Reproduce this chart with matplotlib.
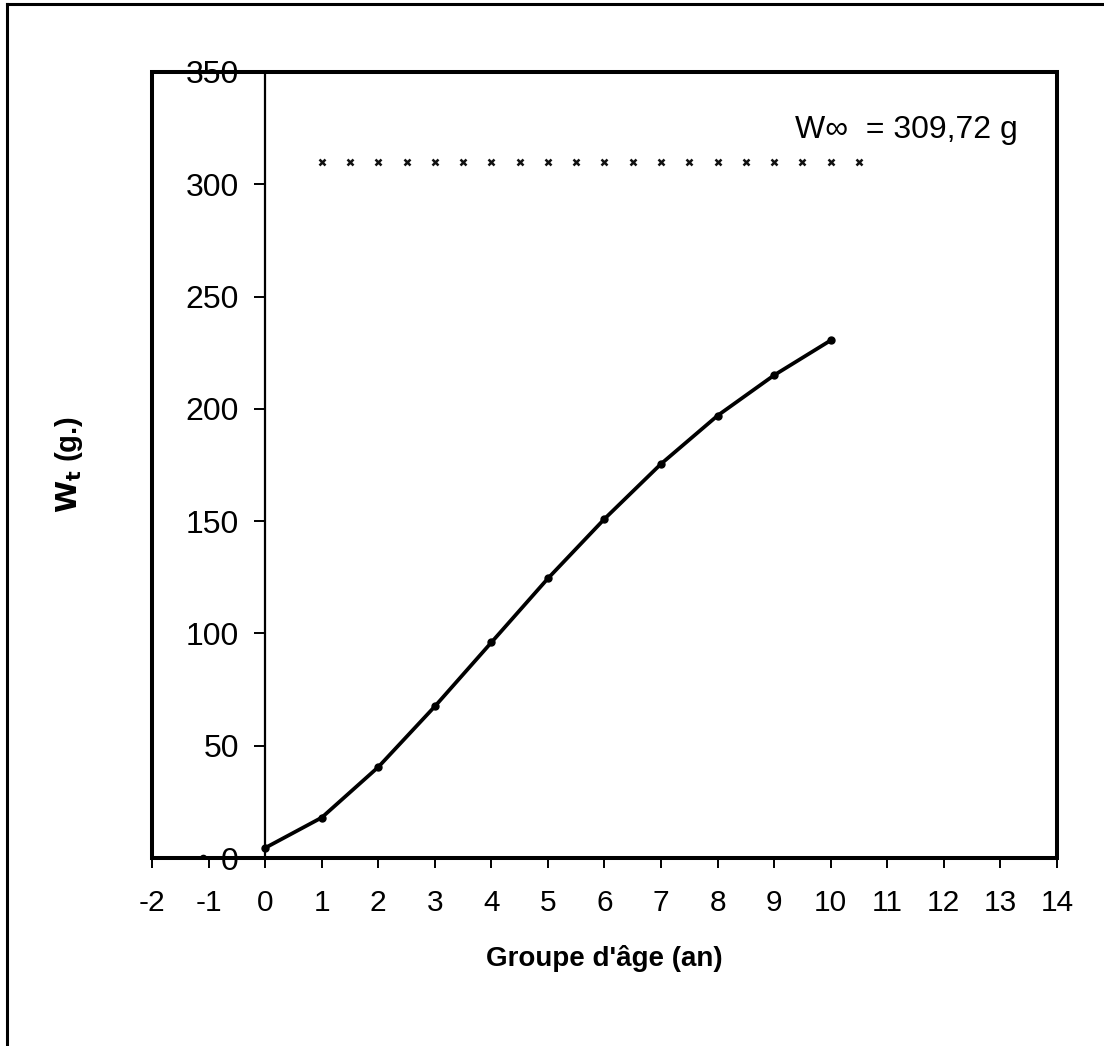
import matplotlib
matplotlib.use("Agg")
import matplotlib.pyplot as plt
from matplotlib.patches import Rectangle
from matplotlib.lines import Line2D
import numpy as np

plt.rcParams['font.family'] = ['Liberation Sans', 'DejaVu Sans']

# Data
ages = [0, 1, 2, 3, 4, 5, 6, 7, 8, 9, 10]
weights = [4.5, 18, 40.5, 67.5, 96, 124.5, 151, 175.5, 197, 215, 230.5]
t0_point_x = [-1.1]
t0_point_y = [0]
w_inf = 309.72
asym_x = [1, 1.5, 2, 2.5, 3, 3.5, 4, 4.5, 5, 5.5, 6, 6.5, 7, 7.5, 8, 8.5, 9, 9.5, 10, 10.5]
x_ticks = list(range(-2, 15))
y_ticks = [0, 50, 100, 150, 200, 250, 300, 350]

fig = plt.figure(figsize=(11.04, 10.46), dpi=100)
ax = fig.add_axes([0.1377, 0.1797, 0.8197, 0.7515])

ax.plot(ages, weights, color='black', lw=2.7, marker='o', ms=5, zorder=3)
ax.plot(t0_point_x, t0_point_y, color='black', marker='o', ms=4.5, ls='none', zorder=3)
ax.plot(asym_x, [w_inf] * len(asym_x), ls='none', marker='x', ms=4.5, mew=1.8, color='#111111')

ax.set_xlim(-2, 14)
ax.set_ylim(0, 350)

for s in ['top', 'right', 'bottom']:
    ax.spines[s].set_visible(False)
ax.spines['left'].set_position(('data', 0))
ax.spines['left'].set_linewidth(1.6)
ax.add_patch(Rectangle((0, 0), 1, 1, transform=ax.transAxes, fill=False,
                       lw=2.9, ec='black', zorder=5, clip_on=False))

ax.set_xticks(x_ticks)
ax.set_xticklabels([str(v) for v in x_ticks])
ax.set_yticks(y_ticks)
ax.set_yticklabels([str(v) for v in y_ticks])
ax.tick_params(axis='x', direction='out', length=7, width=1.4, pad=15, labelsize=21.5)
ax.tick_params(axis='y', direction='out', length=8, width=1.4, pad=11, labelsize=23)

ax.set_xlabel("Groupe d'âge (an)", fontsize=20, fontweight='bold')
ax.xaxis.set_label_coords(0.5, -0.111)
ax.set_ylabel(r"$\mathbf{W_t}$ (g.)", fontsize=21, fontweight='bold')
ax.yaxis.set_label_coords(-0.074, 0.5)

ax.text(9.37, 324, "W\u221e  = 309,72 g", fontsize=23, va='center', ha='left')

# outer frame (left and top edges)
fig.add_artist(Line2D([0.0065, 0.0065], [0.0, 0.996], transform=fig.transFigure, color='black', lw=2.2))
fig.add_artist(Line2D([0.0065, 1.0], [0.996, 0.996], transform=fig.transFigure, color='black', lw=2.2))

fig.savefig("out.png", dpi=100)
